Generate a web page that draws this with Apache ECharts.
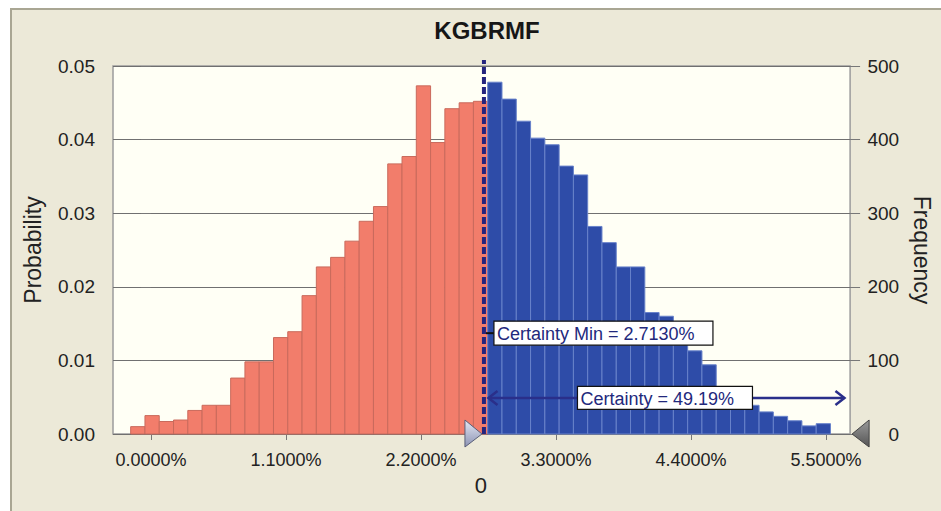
<!DOCTYPE html>
<html><head><meta charset="utf-8">
<script src="https://cdn.jsdelivr.net/npm/echarts@6/dist/echarts.min.js"></script>
<style>
html,body{margin:0;padding:0;background:#fff;}
#frame{position:absolute;left:10px;top:8px;width:931px;height:503px;background:#ECE9D8;border-left:2px solid #A9A693;border-top:2px solid #A9A693;box-sizing:border-box;}
#chart{position:absolute;left:0;top:0;width:941px;height:511px;}
</style></head><body>
<div id="frame"></div><div id="chart"></div>
<script>
// ---- data ----
const chartTitle = 'KGBRMF';
const binStart = -0.165;      // % , left edge of first bin
const binWidth = 0.11635;     // % , width of each bin
const probabilities = [
  0.0010, 0.0025, 0.0017, 0.0019, 0.0032, 0.0039, 0.0039, 0.0076, 0.0098, 0.0098,
  0.0131, 0.0139, 0.0188, 0.0227, 0.0240, 0.0262, 0.0289, 0.0309, 0.0367, 0.0377,
  0.0473, 0.0396, 0.0442, 0.0450, 0.0452, 0.0478, 0.0455, 0.0425, 0.0402, 0.0393,
  0.0364, 0.0352, 0.0282, 0.0260, 0.0227, 0.0227, 0.0165, 0.0160, 0.0135, 0.0113,
  0.0094, 0.0064, 0.0051, 0.0039, 0.0030, 0.0024, 0.0018, 0.0011, 0.0014
];
const xTickValues = [0, 1.1, 2.2, 3.3, 4.4, 5.5];
const xRange = [-0.309, 5.696];
const probRange = [0, 0.05, 0.01];
const freqRange = [0, 500, 100];
const certaintyMin = 2.713;
const certaintyPct = 49.19;
const certaintyArrow = [2.75, 5.65, 0.0049];  // x from, x to, y level
const certaintyMinLabelY = 0.0137;
const lowerFieldText = '0';

const FONT = '"Liberation Sans", Arial, sans-serif';
const binData = probabilities.map((p, i) => [binStart + i * binWidth, binStart + (i + 1) * binWidth, p]);

const chart = echarts.init(document.getElementById('chart'), null, {renderer: 'svg'});
chart.setOption({
  backgroundColor: 'transparent',
  animation: false,
  title: {
    text: chartTitle, left: 482, top: 13, textAlign: 'center',
    textStyle: {fontFamily: FONT, fontSize: 24, fontWeight: 'bold', color: '#161616'}
  },
  grid: {
    left: 113, right: 90, top: 66, bottom: 77, show: true,
    backgroundColor: '#FFFFF5', borderColor: '#9C9C9C', borderWidth: 1.5
  },
  xAxis: {
    type: 'value', min: xRange[0], max: xRange[1],
    axisLine: {show: false},
    splitLine: {show: false},
    axisTick: {show: true, length: 6, customValues: xTickValues, lineStyle: {color: '#777'}},
    axisLabel: {
      customValues: xTickValues, margin: 17, fontFamily: FONT, fontSize: 18, color: '#222',
      formatter: v => v.toFixed(4) + '%'
    }
  },
  yAxis: [{
    type: 'value', min: probRange[0], max: probRange[1], interval: probRange[2],
    name: 'Probability', nameLocation: 'middle', nameGap: 69, nameRotate: 90,
    nameTextStyle: {fontFamily: FONT, fontSize: 23, color: '#222'},
    axisLine: {show: false},
    axisTick: {show: true, length: 10, lineStyle: {color: '#777'}},
    splitLine: {show: true, lineStyle: {color: '#707070', width: 1.2}},
    axisLabel: {margin: 18, fontFamily: FONT, fontSize: 19, color: '#222', formatter: v => v.toFixed(2)}
  }, {
    type: 'value', min: freqRange[0], max: freqRange[1], interval: freqRange[2], position: 'right',
    name: 'Frequency', nameLocation: 'middle', nameGap: 58, nameRotate: -90,
    nameTextStyle: {fontFamily: FONT, fontSize: 23, color: '#222'},
    axisLine: {show: false},
    axisTick: {show: true, length: 10, lineStyle: {color: '#777'}},
    splitLine: {show: false},
    axisLabel: {margin: 49, align: 'right', fontFamily: FONT, fontSize: 19, color: '#222'}
  }],
  series: [{
    type: 'custom', name: 'Probability',
    xAxisIndex: 0, yAxisIndex: 0,
    encode: {x: [0, 1], y: 2},
    data: binData,
    renderItem: function (params, api) {
      const x0 = api.value(0), x1 = api.value(1), v = api.value(2);
      const a = api.coord([x0, v]);
      const b = api.coord([x1, 0]);
      const red = x0 < certaintyMin;
      return {
        type: 'rect',
        shape: {x: a[0], y: a[1], width: b[0] - a[0], height: b[1] - a[1]},
        style: {fill: red ? '#F27D6B' : '#2E4CA8', stroke: red ? '#C96A5C' : '#6882CA', lineWidth: 1}
      };
    }
  }, {
    type: 'line', name: 'Certainty Min', xAxisIndex: 0, yAxisIndex: 0,
    data: [[certaintyMin, 0], [certaintyMin, probRange[1] * 1.016]],
    symbol: 'none', clip: false, z: 5,
    lineStyle: {color: '#24247E', width: 4, type: [7, 3]}
  }]
});

// ---- annotations positioned through the axes ----
const px = v => chart.convertToPixel({xAxisIndex: 0, yAxisIndex: 0}, v);
const lineBase = px([certaintyMin, 0]);
const minLab = px([certaintyMin, certaintyMinLabelY]);
const arrA = px([certaintyArrow[0], certaintyArrow[2]]);
const arrB = px([certaintyArrow[1], certaintyArrow[2]]);
const axisEnd = px([xRange[1], 0]);
const arrowColor = '#2A2F8A';
const midX = (arrA[0] + arrB[0]) / 2;

chart.setOption({
  graphic: [
    // certainty min label
    {type: 'line', z: 20, shape: {x1: minLab[0] + 2, y1: minLab[1], x2: minLab[0] + 10, y2: minLab[1]}, style: {stroke: '#111', lineWidth: 2}},
    {type: 'rect', z: 20, shape: {x: minLab[0] + 10, y: minLab[1] - 12, width: 219, height: 24}, style: {fill: '#fff', stroke: '#111', lineWidth: 1.2}},
    {type: 'text', z: 21, x: minLab[0] + 13, y: minLab[1] + 1, style: {text: 'Certainty Min = ' + certaintyMin.toFixed(4) + '%', font: '18px ' + FONT, fill: '#22287C', verticalAlign: 'middle'}},
    // certainty arrow
    {type: 'line', z: 20, shape: {x1: arrA[0], y1: arrA[1], x2: arrB[0], y2: arrB[1]}, style: {stroke: arrowColor, lineWidth: 2.5}},
    {type: 'polyline', z: 20, shape: {points: [[arrA[0] + 9, arrA[1] - 7], [arrA[0], arrA[1]], [arrA[0] + 9, arrA[1] + 7]]}, style: {stroke: arrowColor, lineWidth: 2.5, fill: null}},
    {type: 'polyline', z: 20, shape: {points: [[arrB[0] - 9, arrB[1] - 7], [arrB[0], arrB[1]], [arrB[0] - 9, arrB[1] + 7]]}, style: {stroke: arrowColor, lineWidth: 2.5, fill: null}},
    {type: 'rect', z: 20, shape: {x: midX - 89, y: arrA[1] - 11.5, width: 175, height: 23}, style: {fill: '#fff', stroke: '#111', lineWidth: 1.2}},
    {type: 'text', z: 21, x: midX - 86, y: arrA[1] + 1, style: {text: 'Certainty = ' + certaintyPct.toFixed(2) + '%', font: '18px ' + FONT, fill: '#22287C', verticalAlign: 'middle'}},
    // grabbers
    {type: 'polygon', z: 22, shape: {points: [[lineBase[0] - 19, lineBase[1] - 14], [lineBase[0] - 2, lineBase[1]], [lineBase[0] - 19, lineBase[1] + 13]]},
      style: {fill: new echarts.graphic.LinearGradient(0, 0, 0, 1, [{offset: 0, color: '#E4E8F4'}, {offset: 1, color: '#8C93B4'}]), stroke: '#5A5F78', lineWidth: 1}},
    {type: 'polygon', z: 22, shape: {points: [[axisEnd[0] + 19, axisEnd[1] - 14], [axisEnd[0] + 2, axisEnd[1]], [axisEnd[0] + 19, axisEnd[1] + 13]]},
      style: {fill: new echarts.graphic.LinearGradient(0, 0, 0, 1, [{offset: 0, color: '#9A9A9A'}, {offset: 1, color: '#555'}]), stroke: '#444', lineWidth: 1}},
    {type: 'text', z: 22, x: lineBase[0] - 3, y: lineBase[1] + 51, style: {text: lowerFieldText, font: '22px ' + FONT, fill: '#222', align: 'center', verticalAlign: 'middle'}}
  ]
});
</script>
</body></html>
